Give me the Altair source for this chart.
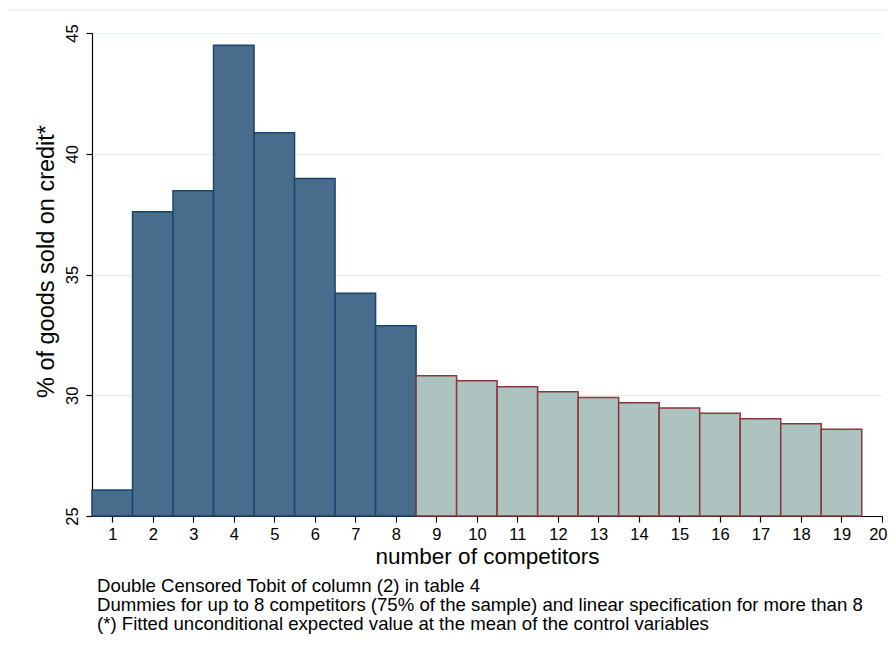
import altair as alt
import pandas as pd

competitors = list(range(1, 20))
credit_pct = [26.08, 37.6, 38.47, 44.49, 40.87, 38.98, 34.22, 32.88,
              30.81, 30.60, 30.35, 30.15, 29.91, 29.69, 29.47, 29.25, 29.03, 28.82, 28.59]
spec = ["dummy"] * 8 + ["linear"] * 11
x_ticks = list(range(1, 21))
y_ticks = [25, 30, 35, 40, 45]
notes = ("Double Censored Tobit of column (2) in table 4\n"
         "Dummies for up to 8 competitors (75% of the sample) and linear specification for more than 8\n"
         "(*) Fitted unconditional expected value at the mean of the control variables")

df = pd.DataFrame({"n": competitors, "pct": credit_pct, "spec": spec})

FONT = "Liberation Sans"

base = alt.Chart(df).transform_calculate(
    x0="datum.n - 0.5", x1="datum.n + 0.5", y0="25"
)

bars = base.mark_rect(strokeWidth=1.5).encode(
    x=alt.X("x0:Q", scale=alt.Scale(domain=[0.5, 20], nice=False, zero=False),
            axis=alt.Axis(values=x_ticks, title="number of competitors", grid=False,
                          domainColor="black", domainWidth=1.2, tickColor="black",
                          tickSize=6, tickWidth=1.2, labelFontSize=16.5, labelFont=FONT,
                          labelColor="black", labelPadding=4, labelFlush=True,
                          labelFlushOffset=5,
                          labelOverlap=False, labelBound=False, titleFont=FONT,
                          titleFontSize=22.5, titleFontWeight="normal", titleColor="black",
                          titlePadding=3)),
    x2="x1:Q",
    y=alt.Y("pct:Q", scale=alt.Scale(domain=[25, 45], nice=False, zero=False),
            axis=alt.Axis(values=y_ticks, title="% of goods sold on credit*",
                          grid=True, gridColor="#e6eef1", gridWidth=1.2,
                          domainColor="black", domainWidth=1.2, tickColor="black",
                          tickSize=6, tickWidth=1.2, labelFontSize=16.5, labelFont=FONT,
                          labelColor="black", labelAngle=-90, labelAlign="center",
                          labelBaseline="alphabetic", labelPadding=9, labelFlush=False,
                          labelOverlap=False, labelBound=False,
                          titleFont=FONT, titleFontSize=23.5, titleFontWeight="normal",
                          titleColor="black", titleAngle=-90, titleBaseline="alphabetic",
                          titleX=-39, titleY=228, titleAlign="center")),
    y2="y0:Q",
    fill=alt.Fill("spec:N", scale=alt.Scale(domain=["dummy", "linear"],
                                             range=["#486c8c", "#acc3bf"]), legend=None),
    stroke=alt.Stroke("spec:N", scale=alt.Scale(domain=["dummy", "linear"],
                                                 range=["#1a476f", "#90353b"]), legend=None),
)

frame = alt.Chart(pd.DataFrame({"k": [0]})).mark_rect(
    fill=None, stroke="#e8eef0", strokeWidth=1.5, clip=False
).encode(x=alt.value(-86), x2=alt.value(799), y=alt.value(-23), y2=alt.value(720))

note_text = alt.Chart(pd.DataFrame({"t": [notes]})).mark_text(
    align="left", baseline="alphabetic", lineBreak="\n", lineHeight=19,
    font=FONT, fontSize=18.6, color="black", clip=False
).encode(text="t:N", x=alt.value(5), y=alt.value(559))

chart = alt.layer(frame, bars, note_text).properties(
    width=790, height=483,
    autosize=alt.AutoSizeParams(type="none"),
    padding={"left": 84, "top": 25, "right": 6, "bottom": 132},
    background="white",
).configure_view(stroke=None)

chart.save("out.html", embed_options={"renderer": "svg", "actions": False})
